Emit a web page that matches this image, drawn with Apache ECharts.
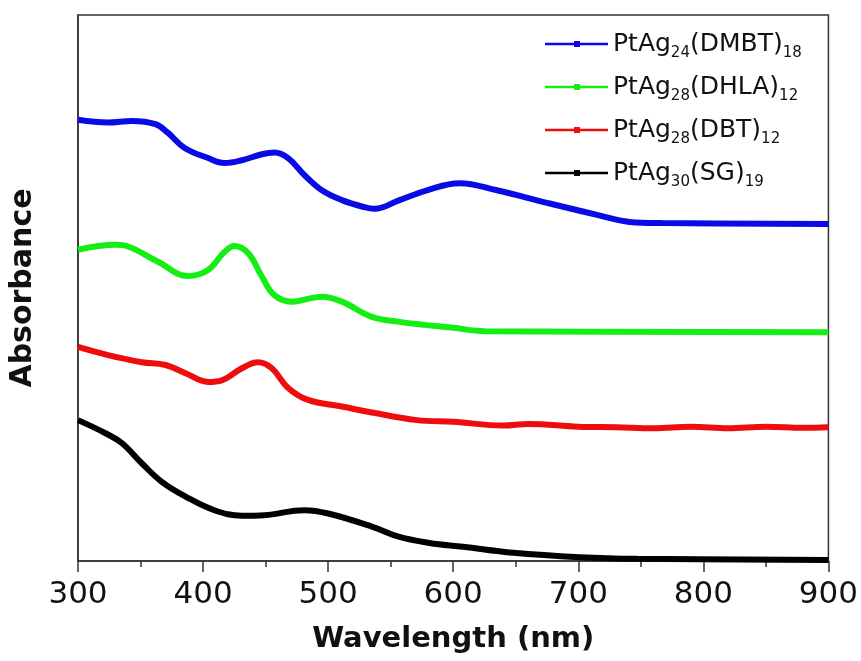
<!DOCTYPE html>
<html>
<head>
<meta charset="utf-8">
<script src="https://cdn.jsdelivr.net/npm/echarts@6/dist/echarts.min.js"></script>
<style>
  html, body { margin: 0; padding: 0; background: #fff; }
  #chart { width: 861px; height: 661px; }
</style>
</head>
<body>
<div id="chart"></div>
<script>
// UV-vis absorption spectra (arbitrary absorbance units, curves offset for clarity)
const seriesNames = ['PtAg24(DMBT)18', 'PtAg28(DHLA)12', 'PtAg28(DBT)12', 'PtAg30(SG)19'];
const seriesLabels = ['PtAg{s|24}(DMBT){s|18}', 'PtAg{s|28}(DHLA){s|12}', 'PtAg{s|28}(DBT){s|12}', 'PtAg{s|30}(SG){s|19}'];
const seriesColors = ['#0a0ae6', '#14ee14', '#ee0c0c', '#000000'];

const dmbtWl  = [300, 324, 343, 362, 372, 385, 404, 417, 431, 447, 457, 468, 481, 495, 511, 529, 537, 557, 579, 605, 635, 675, 715, 741, 767, 900];
const dmbtAbs = [0.808, 0.803, 0.806, 0.800, 0.784, 0.757, 0.738, 0.729, 0.734, 0.745, 0.748, 0.738, 0.707, 0.679, 0.661, 0.648, 0.645, 0.661, 0.679, 0.692, 0.679, 0.656, 0.634, 0.621, 0.619, 0.617];

const dhlaWl  = [300, 330, 340, 364, 388, 404, 417, 425, 436, 447, 457, 471, 495, 511, 535, 557, 579, 600, 625, 900];
const dhlaAbs = [0.570, 0.579, 0.576, 0.548, 0.522, 0.533, 0.566, 0.577, 0.564, 0.521, 0.487, 0.475, 0.484, 0.475, 0.447, 0.438, 0.432, 0.427, 0.421, 0.419];

const dbtWl  = [300, 324, 351, 370, 386, 404, 415, 431, 444, 455, 468, 484, 511, 535, 571, 600, 640, 660, 700, 730, 760, 790, 820, 850, 880, 900];
const dbtAbs = [0.392, 0.377, 0.364, 0.359, 0.344, 0.328, 0.331, 0.353, 0.364, 0.353, 0.317, 0.295, 0.283, 0.272, 0.258, 0.255, 0.248, 0.251, 0.246, 0.245, 0.243, 0.246, 0.243, 0.246, 0.244, 0.245];

const sgWl  = [300, 322, 335, 351, 367, 386, 409, 431, 449, 481, 500, 535, 557, 581, 608, 648, 701, 747, 900];
const sgAbs = [0.258, 0.234, 0.216, 0.179, 0.145, 0.118, 0.093, 0.083, 0.084, 0.093, 0.087, 0.063, 0.044, 0.033, 0.026, 0.015, 0.007, 0.004, 0.002];

const xTicks = [300, 400, 500, 600, 700, 800, 900];

const curves = [[dmbtWl, dmbtAbs], [dhlaWl, dhlaAbs], [dbtWl, dbtAbs], [sgWl, sgAbs]];
const labelByName = {};
seriesNames.forEach((n, i) => { labelByName[n] = seriesLabels[i]; });

const chart = echarts.init(document.getElementById('chart'), null, { renderer: 'canvas' });

const FONT = 'DejaVu Sans';

chart.setOption({
  backgroundColor: '#ffffff',
  animation: false,
  grid: {
    left: 78, top: 15, right: 32, bottom: 100,
    show: true, borderColor: '#333', borderWidth: 1.5, backgroundColor: 'transparent'
  },
  legend: {
    orient: 'vertical',
    left: 540, top: 22,
    itemWidth: 63, itemHeight: 6,
    itemGap: 9,
    icon: 'path://M0,1.8 L63,1.8 L63,4.2 L0,4.2 Z M29,0 L35,0 L35,6 L29,6 Z',
    data: seriesNames,
    formatter: name => labelByName[name],
    textStyle: {
      fontFamily: FONT, fontSize: 25, color: '#111', lineHeight: 34,
      rich: {
        s: { fontFamily: FONT, fontSize: 15, color: '#111', verticalAlign: 'bottom', lineHeight: 34 }
      }
    }
  },
  xAxis: {
    type: 'value', min: xTicks[0], max: xTicks[xTicks.length - 1], interval: 100,
    name: 'Wavelength (nm)', nameLocation: 'middle', nameGap: 64,
    nameTextStyle: { fontFamily: FONT, fontWeight: 'bold', fontSize: 29, color: '#111' },
    axisLine: { show: true, onZero: false, lineStyle: { color: '#333', width: 1.5 } },
    axisTick: { show: true, inside: false, length: 11, lineStyle: { color: '#333', width: 1.5 } },
    minorTick: { show: true, splitNumber: 2, length: 6, lineStyle: { color: '#333', width: 1.5 } },
    axisLabel: { fontFamily: FONT, fontSize: 31, color: '#111', margin: 18 },
    splitLine: { show: false }
  },
  yAxis: {
    type: 'value', min: 0, max: 1,
    name: 'Absorbance', nameLocation: 'middle', nameGap: 40, nameRotate: 90,
    nameTextStyle: { fontFamily: FONT, fontWeight: 'bold', fontSize: 30, color: '#111' },
    axisLine: { show: true, lineStyle: { color: '#333', width: 1.5 } },
    axisTick: { show: false },
    axisLabel: { show: false },
    splitLine: { show: false }
  },
  series: curves.map(([wl, ab], i) => ({
    name: seriesNames[i],
    type: 'line',
    smooth: 0.4,
    showSymbol: false,
    symbol: 'rect',
    symbolSize: 6,
    color: seriesColors[i],
    lineStyle: { color: seriesColors[i], width: 6 },
    data: wl.map((w, k) => [w, ab[k]])
  }))
});
</script>
</body>
</html>
